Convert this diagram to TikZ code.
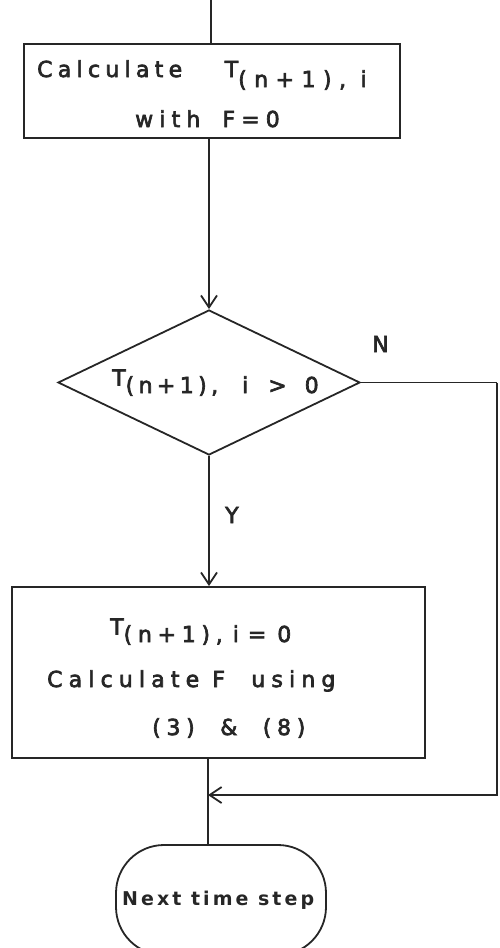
\documentclass[tikz,border=0pt]{standalone}
\usepackage{fontspec}
\setmainfont{DejaVu Sans}
\newfontfamily\lettA[LetterSpace=24,FakeBold=3]{DejaVu Sans}
\newfontfamily\lettB[LetterSpace=28,FakeBold=3]{DejaVu Sans}
\newfontfamily\lettC[LetterSpace=20,FakeBold=3]{DejaVu Sans}
\newfontfamily\lettE[LetterSpace=26,FakeBold=3]{DejaVu Sans}
\newfontfamily\lettS[LetterSpace=34,FakeBold=3]{DejaVu Sans}
\newfontfamily\lettL[FakeBold=3]{DejaVu Sans}
\newfontfamily\lettD[LetterSpace=16]{DejaVu Sans Bold}
\usetikzlibrary{shapes.geometric,arrows.meta}
\definecolor{ink}{HTML}{262626}
\tikzset{
  line/.style={draw=ink, line width=1.8pt},
  arr/.style={line, -{Straight Barb[length=12pt,width=16pt,line width=1.8pt]}},
  procbox/.style={line, rectangle, inner sep=0pt},
  decbox/.style={line, diamond, inner sep=0pt, minimum width=302pt, minimum height=145pt},
  termbox/.style={line, rectangle, rounded corners=48pt, inner sep=0pt, minimum width=210pt, minimum height=110pt},
  txt/.style={text=ink, inner sep=0pt, anchor=base west}
}
\newcommand{\hiT}{\raisebox{.62ex}{T}}
\begin{document}
\begin{tikzpicture}[x=1pt,y=-1pt]
\useasboundingbox (0,0) rectangle (500,948);
% shapes
\node[procbox, minimum width=376pt, minimum height=94pt] (b1) at (212,91) {};
\node[decbox] (d) at (209,382.5) {};
\node[procbox, minimum width=413pt, minimum height=171pt] (b2) at (218.5,672.5) {};
\node[termbox] (term) at (221,900) {};
% texts
\node[txt, font=\lettA\fontsize{22}{26}\selectfont] (t1a) at (37,77) {Calculate\ \ \hspace{18pt}T\raisebox{-10pt}{\lettS(n+1), i}};
\node[txt, font=\lettB\fontsize{22}{26}\selectfont] (t1b) at (135,127) {with\ \hspace{9pt}F=\kern6pt0};
\node[txt, font=\lettC\fontsize{22}{26}\selectfont] (td) at (112,393) {\hiT(n+1),\hspace{24pt}i\hspace{20pt}>\hspace{18pt}0};
\node[txt, font=\lettE\fontsize{22}{26}\selectfont] (t2a) at (110,642) {\hiT(n+1),\hspace{10pt}i\hspace{9pt}=\hspace{11pt}0};
\node[txt, font=\lettB\fontsize{22}{26}\selectfont] (t2b) at (47,687) {Calculate\ F\ \ using};
\node[txt, font=\lettE\fontsize{22}{26}\selectfont] (t2c) at (152,735) {(3)\ \ \&\ \ (8)};
\node[txt, font=\lettD\fontsize{19}{22}\selectfont] (tt) at (122,905) {Next time step};
\node[txt, font=\lettL\fontsize{22}{26}\selectfont] (lN) at (372,352) {N};
\node[txt, font=\lettL\fontsize{22}{26}\selectfont] (lY) at (225,523) {Y};
% connectors
\coordinate (top) at (211,0);
\coordinate (rc) at (497,382.5);
\coordinate (join) at (208,795);
\draw[line] (top) -- (top |- b1.north);
\draw[arr] (d.north |- b1.south) -- (d.north);
\draw[arr] (d.south) -- (d.south |- b2.north);
\draw[line] (d.east) -- (rc);
\draw[arr] (rc) |- (join);
\draw[line] (join |- b2.south) -- (join |- term.north);
\end{tikzpicture}
\end{document}
